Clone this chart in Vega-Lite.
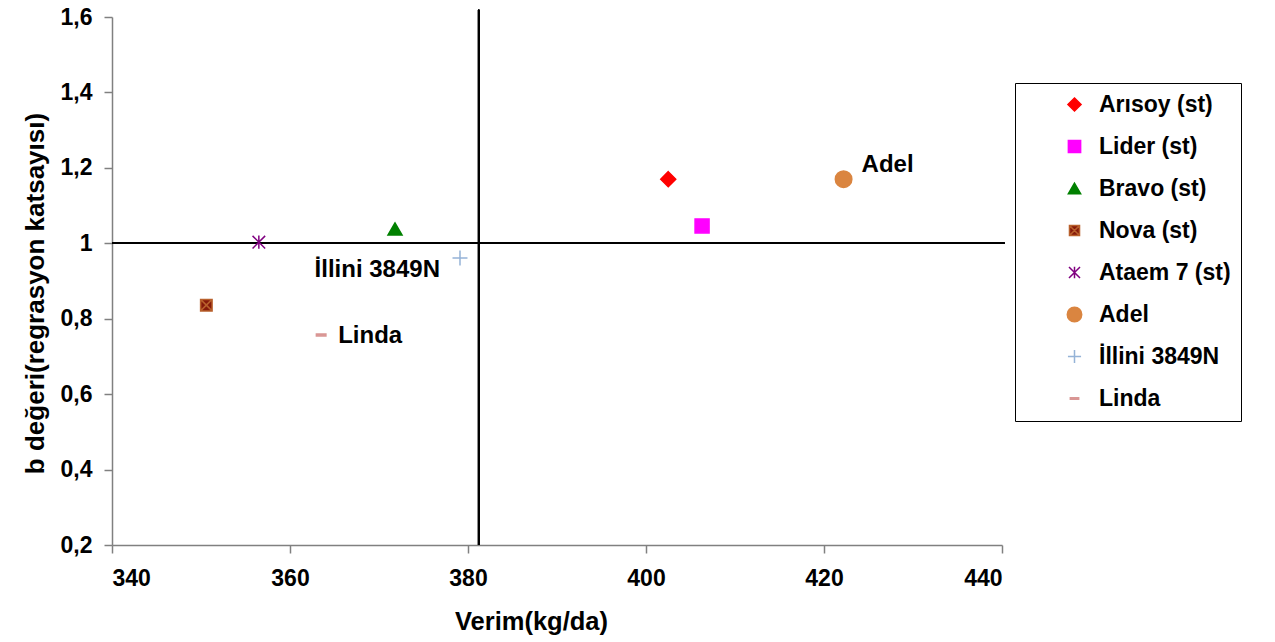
{
  "$schema": "https://vega.github.io/schema/vega-lite/v6.json",
  "width": 890,
  "height": 528,
  "autosize": "none",
  "padding": {"left": 112, "top": 17, "right": 273, "bottom": 97},
  "background": "white",
  "config": {
    "view": {"stroke": null},
    "font": "Liberation Sans",
    "axis": {
      "grid": false,
      "domainColor": "#808080",
      "domainWidth": 1.5,
      "tickColor": "#808080",
      "tickWidth": 1.5,
      "tickSize": 8,
      "labelFont": "Liberation Sans",
      "labelFontSize": 23,
      "labelFontWeight": "bold",
      "labelColor": "black",
      "titleFont": "Liberation Sans",
      "titleFontWeight": "bold",
      "titleColor": "black"
    }
  },
  "data": {
    "values": [
      {"name": "Arısoy (st)", "x": 402.5, "y": 1.17},
      {"name": "Lider (st)", "x": 406.3, "y": 1.046},
      {"name": "Bravo (st)", "x": 371.8, "y": 1.038},
      {"name": "Nova (st)", "x": 350.6, "y": 0.836},
      {"name": "Ataem 7 (st)", "x": 356.5, "y": 1.003},
      {"name": "Adel", "x": 422.2, "y": 1.17},
      {"name": "İllini 3849N", "x": 379.1, "y": 0.961},
      {"name": "Linda", "x": 363.5, "y": 0.757}
    ]
  },
  "layer": [
    {
      "mark": {"type": "rule", "color": "black", "strokeWidth": 1.5},
      "encoding": {
        "x": {"datum": 340, "type": "quantitative"},
        "x2": {"datum": 440.3},
        "y": {"datum": 1, "type": "quantitative"}
      }
    },
    {
      "mark": {"type": "rule", "color": "black", "strokeWidth": 1.5},
      "encoding": {
        "x": {"datum": 381.2, "type": "quantitative"},
        "y": {"datum": 0.2, "type": "quantitative"},
        "y2": {"datum": 1.619}
      }
    },
    {
      "mark": {"type": "point", "opacity": 1, "strokeWidth": 1.5, "size": 196},
      "encoding": {
        "x": {
          "field": "x",
          "type": "quantitative",
          "scale": {"domain": [340, 440], "nice": false, "zero": false},
          "axis": {
            "values": [340, 360, 380, 400, 420, 440],
            "title": "Verim(kg/da)",
            "titleFontSize": 25.5,
            "labelPadding": 14,
            "titlePadding": 19,
            "titleX": 419
          }
        },
        "y": {
          "field": "y",
          "type": "quantitative",
          "scale": {"domain": [0.2, 1.6], "nice": false, "zero": false},
          "axis": {
            "values": [0.2, 0.4, 0.6, 0.8, 1, 1.2, 1.4, 1.6],
            "labelExpr": "replace(format(datum.value, '~g'), '.', ',')",
            "title": "b değeri(regrasyon katsayısı)",
            "titleFontSize": 26,
            "labelPadding": 12,
            "titlePadding": 12,
            "titleY": 276
          }
        },
        "shape": {
          "field": "name",
          "type": "nominal",
          "scale": {
            "domain": ["Arısoy (st)", "Lider (st)", "Bravo (st)", "Nova (st)", "Ataem 7 (st)", "Adel", "İllini 3849N", "Linda"],
            "range": [
              "M0,-1.07L1.07,0L0,1.07L-1.07,0Z",
              "square",
              "triangle-up",
              "M-0.82,-0.82H0.82V0.82H-0.82ZM-0.82,-0.82L0.82,0.82M0.82,-0.82L-0.82,0.82",
              "M-0.9,-0.9L0.9,0.9M0.9,-0.9L-0.9,0.9M0,-0.95V0.95",
              "M1.18,0A1.18,1.18,0,1,1,-1.18,0A1.18,1.18,0,1,1,1.18,0Z",
              "M-1.07,0H1.07M0,-1.07V1.07",
              "M-0.68,-0.14H0.68V0.14H-0.68Z"
            ]
          },
          "legend": {
            "title": null,
            "orient": "none",
            "legendX": 903,
            "legendY": 66,
            "padding": 10,
            "rowPadding": 18,
            "symbolSize": 150,
            "symbolStrokeWidth": 1.5,
            "symbolOffset": 38,
            "labelOffset": 13,
            "labelFont": "Liberation Sans",
            "labelFontSize": 23,
            "labelFontWeight": "bold",
            "labelColor": "black",
            "strokeColor": "black",
            "fillColor": "white",
            "labelExpr": "datum.label + '\u00a0\u00a0\u00a0\u00a0'",
            "encode": {
              "symbols": {
                "shape": {"value": {"signal": "datum.value === 'Ataem 7 (st)' ? 'M-3.4,0H3.4M-0.9,-0.9L0.9,0.9M0.9,-0.9L-0.9,0.9M0,-0.95V0.95' : scale('shape', datum.value)"}},
                "fill": {"value": {"signal": "scale('fill', datum.value)"}},
                "stroke": {"value": {"signal": "scale('stroke', datum.value)"}}
              }
            }
          }
        },
        "fill": {
          "field": "name",
          "type": "nominal",
          "scale": {
            "domain": ["Arısoy (st)", "Lider (st)", "Bravo (st)", "Nova (st)", "Ataem 7 (st)", "Adel", "İllini 3849N", "Linda"],
            "range": ["#ff0000", "#ff00ff", "#008000", "#861a0a", "transparent", "#da8540", "transparent", "#d99694"]
          },
          "legend": null
        },
        "stroke": {
          "field": "name",
          "type": "nominal",
          "scale": {
            "domain": ["Arısoy (st)", "Lider (st)", "Bravo (st)", "Nova (st)", "Ataem 7 (st)", "Adel", "İllini 3849N", "Linda"],
            "range": ["#ff0000", "#ff00ff", "#008000", "#b8602c", "#800080", "#da8540", "#95b3d7", "#d99694"]
          },
          "legend": null
        }
      }
    },
    {
      "transform": [{"filter": "datum.name === 'Adel'"}],
      "mark": {"type": "text", "align": "left", "baseline": "middle", "dx": 18, "dy": -14, "font": "Liberation Sans", "fontSize": 24, "fontWeight": "bold", "color": "black"},
      "encoding": {
        "x": {"field": "x", "type": "quantitative"},
        "y": {"field": "y", "type": "quantitative"},
        "text": {"field": "name"}
      }
    },
    {
      "transform": [{"filter": "datum.name === 'İllini 3849N'"}],
      "mark": {"type": "text", "align": "right", "baseline": "middle", "dx": -20, "dy": 12, "font": "Liberation Sans", "fontSize": 24, "fontWeight": "bold", "color": "black"},
      "encoding": {
        "x": {"field": "x", "type": "quantitative"},
        "y": {"field": "y", "type": "quantitative"},
        "text": {"field": "name"}
      }
    },
    {
      "transform": [{"filter": "datum.name === 'Linda'"}],
      "mark": {"type": "text", "align": "left", "baseline": "middle", "dx": 17, "dy": 1, "font": "Liberation Sans", "fontSize": 24, "fontWeight": "bold", "color": "black"},
      "encoding": {
        "x": {"field": "x", "type": "quantitative"},
        "y": {"field": "y", "type": "quantitative"},
        "text": {"field": "name"}
      }
    }
  ]
}
